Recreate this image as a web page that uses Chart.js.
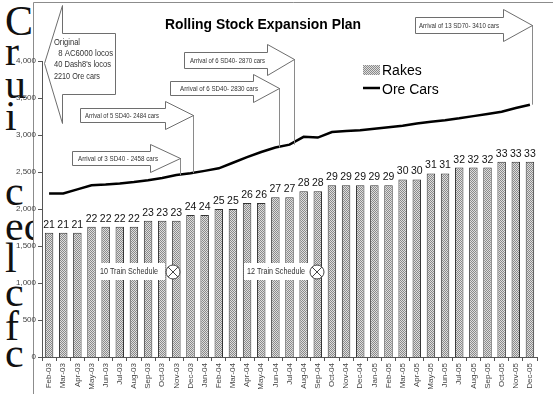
<!DOCTYPE html>
<html>
<head>
<meta charset="utf-8">
<script src="https://cdn.jsdelivr.net/npm/chart.js@4.4.1/dist/chart.umd.min.js"></script>
<style>
  html, body { margin: 0; padding: 0; background: #fff; overflow: hidden; }
  #wrap { position: relative; width: 553px; height: 394px; }
  .side { position: absolute; left: 5px; font-family: "Liberation Serif", "Times New Roman", serif;
          font-size: 42px; line-height: 1; color: #111; white-space: nowrap; }
  #c { position: absolute; left: 0; top: 0; }
</style>
</head>
<body>
<div id="wrap">
  <div class="side" style="top:0px">C</div>
  <div class="side" style="top:30px">r</div>
  <div class="side" style="top:63px">u</div>
  <div class="side" style="top:95px">i</div>
  <div class="side" style="top:170px">c</div>
  <div class="side" style="top:205px">ec</div>
  <div class="side" style="top:237px">l</div>
  <div class="side" style="top:271px">c</div>
  <div class="side" style="top:305px">f</div>
  <div class="side" style="top:332px">c</div>
  <canvas id="c" width="553" height="394"></canvas>
</div>
<script>
// Monthly plan, Feb-03 .. Dec-05
const months = ['Feb-03','Mar-03','Apr-03','May-03','Jun-03','Jul-03','Aug-03','Sep-03','Oct-03','Nov-03','Dec-03',
  'Jan-04','Feb-04','Mar-04','Apr-04','May-04','Jun-04','Jul-04','Aug-04','Sep-04','Oct-04','Nov-04','Dec-04',
  'Jan-05','Feb-05','Mar-05','Apr-05','May-05','Jun-05','Jul-05','Aug-05','Sep-05','Oct-05','Nov-05','Dec-05'];

const rakes = [21,21,21,22,22,22,22,23,23,23,24,24,25,25,26,26,27,27,28,28,29,29,29,29,29,30,30,31,31,32,32,32,33,33,33];

const oreCars = [2210,2210,2265,2320,2330,2345,2365,2390,2420,2458,2484,2515,2550,2625,2700,2770,2830,2870,2975,2965,
  3040,3055,3065,3085,3105,3125,3155,3180,3200,3225,3255,3285,3315,3365,3410];

// Locomotive arrivals and the ore-car fleet they bring
const arrivalText = ['Arrival of 3 SD40 - 2458 cars','Arrival of 5 SD40- 2484 cars','Arrival of 6 SD40- 2830 cars',
  'Arrival of 6 SD40- 2870 cars','Arrival of 13 SD70- 3410 cars'];
const arrivalCars = [2458, 2484, 2830, 2870, 3410];

const originalText = ['Original', '  8 AC6000 locos', "40 Dash8's locos", '2210 Ore cars'];
const scheduleText = ['10 Train Schedule', '12 Train Schedule'];

// Layout of the arrow call-outs (pixels)
const arrowLayout = [
  { x0: 72,  hx: 150, y0: 151, y1: 165, ht: 144, hb: 172, tx: 180, ty: 158, textX: 78,  textW: 80 },
  { x0: 80,  hx: 165, y0: 108, y1: 122, ht: 101, hb: 129, tx: 193, ty: 115, textX: 85,  textW: 74 },
  { x0: 170, hx: 253, y0: 81,  y1: 95,  ht: 74,  hb: 102, tx: 279, ty: 88,  textX: 180, textW: 78 },
  { x0: 184, hx: 267, y0: 52,  y1: 68,  ht: 44,  hb: 75,  tx: 294, ty: 59,  textX: 190, textW: 75 },
  { x0: 415, hx: 503, y0: 17,  y1: 33,  ht: 9,   hb: 41,  tx: 532, ty: 25,  textX: 419, textW: 80 }
];
const scheduleLayout = [
  { x: 97,  w: 68, cx: 173 },
  { x: 244, w: 66, cx: 317 }
];

const NARROW = '"Liberation Sans Narrow", "Liberation Sans", Arial, sans-serif';
const SANS = '"Liberation Sans", Arial, sans-serif';

// Dotted grey fill used by the rake bars
function makeDots() {
  const p = document.createElement('canvas');
  p.width = 2; p.height = 2;
  const g = p.getContext('2d');
  g.fillStyle = '#dedede'; g.fillRect(0, 0, 2, 2);
  g.fillStyle = '#8a8a8a'; g.fillRect(0, 0, 1, 1); g.fillRect(1, 1, 1, 1);
  return g.createPattern(p, 'repeat');
}
const ctx0 = document.getElementById('c').getContext('2d');
const dots = makeDots();

const decor = {
  id: 'decor',
  beforeDraw(chart) {
    const c = chart.ctx;
    c.save();
    c.fillStyle = '#fff';
    c.fillRect(33, 2, 530, 400);
    c.strokeStyle = '#8c8c8c'; c.lineWidth = 1;
    c.beginPath();
    c.moveTo(33.5, 400); c.lineTo(33.5, 2.5); c.lineTo(560, 2.5);
    c.stroke();
    c.restore();
  },
  afterDatasetsDraw(chart) {
    const c = chart.ctx;
    const y = chart.scales.y;
    c.save();

    // value labels above the bars
    const barMeta = chart.getDatasetMeta(1);
    c.fillStyle = '#111';
    c.font = '10.5px ' + NARROW;
    c.textAlign = 'center'; c.textBaseline = 'alphabetic';
    barMeta.data.forEach((el, i) => c.fillText(String(rakes[i]), el.x, el.y - 5));

    // schedule markers
    c.font = '9px ' + NARROW;
    c.textBaseline = 'middle'; c.textAlign = 'left';
    scheduleText.forEach((t, i) => {
      const L = scheduleLayout[i];
      c.fillStyle = '#fff';
      c.fillRect(L.x, 263, L.w, 17);
      c.fillStyle = '#333';
      c.fillText(t, L.x + 3, 272, 58);
      c.beginPath(); c.arc(L.cx, 272, 7, 0, Math.PI * 2);
      c.fillStyle = '#fff'; c.fill();
      c.strokeStyle = '#444'; c.lineWidth = 1; c.stroke();
      const d = 4.9;
      c.beginPath();
      c.moveTo(L.cx - d, 272 - d); c.lineTo(L.cx + d, 272 + d);
      c.moveTo(L.cx + d, 272 - d); c.lineTo(L.cx - d, 272 + d);
      c.stroke();
    });

    // arrival arrows with leaders down to the ore-car line
    c.lineWidth = 1;
    arrivalText.forEach((t, i) => {
      const a = arrowLayout[i];
      c.strokeStyle = '#8a8a8a';
      c.beginPath();
      c.moveTo(a.tx + 0.5, a.ty); c.lineTo(a.tx + 0.5, y.getPixelForValue(arrivalCars[i]));
      c.stroke();
      c.beginPath();
      c.moveTo(a.x0 + 0.5, a.y0 + 0.5); c.lineTo(a.hx + 0.5, a.y0 + 0.5); c.lineTo(a.hx + 0.5, a.ht + 0.5);
      c.lineTo(a.tx + 0.5, a.ty + 0.5); c.lineTo(a.hx + 0.5, a.hb + 0.5); c.lineTo(a.hx + 0.5, a.y1 + 0.5);
      c.lineTo(a.x0 + 0.5, a.y1 + 0.5); c.closePath();
      c.fillStyle = '#fff'; c.fill();
      c.strokeStyle = '#6e6e6e'; c.stroke();
      c.fillStyle = '#333';
      c.font = '8px ' + NARROW;
      c.textAlign = 'left'; c.textBaseline = 'middle';
      c.fillText(t, a.textX, (a.y0 + a.y1) / 2 + 0.5, a.textW);
    });

    // initial fleet call-out (left-pointing)
    c.beginPath();
    c.moveTo(115.5, 33.5); c.lineTo(62.5, 33.5); c.lineTo(62.5, 5.5); c.lineTo(44.5, 63.5);
    c.lineTo(62.5, 123.5); c.lineTo(62.5, 94.5); c.lineTo(115.5, 94.5); c.closePath();
    c.fillStyle = '#fff'; c.fill();
    c.strokeStyle = '#6e6e6e'; c.stroke();
    c.fillStyle = '#333';
    c.font = '9px ' + NARROW;
    const oy = [43, 54, 65, 77];
    const ow = [26, 53, 57, 46];
    originalText.forEach((t, i) => c.fillText(t, 54, oy[i], ow[i] + (t.startsWith(' ') ? 6 : 0)));

    // title
    c.fillStyle = '#000';
    c.font = 'bold 14px ' + SANS;
    c.textAlign = 'center';
    c.fillText('Rolling Stock Expansion Plan', 263, 25, 196);

    // legend
    c.textAlign = 'left';
    c.fillStyle = dots;
    c.fillRect(363, 65, 17, 10);
    c.strokeStyle = '#000'; c.lineWidth = 2.5;
    c.beginPath(); c.moveTo(363, 88); c.lineTo(380, 88); c.stroke();
    c.fillStyle = '#000';
    c.font = '14px ' + NARROW;
    c.fillText('Rakes', 382, 71);
    c.fillText('Ore Cars', 382, 90);
    c.restore();
  }
};

new Chart(ctx0, {
  data: {
    labels: months,
    datasets: [
      {
        type: 'line', label: 'Ore Cars', data: oreCars, yAxisID: 'y', order: 1,
        borderColor: '#000', borderWidth: 2.5, pointRadius: 0, tension: 0, fill: false
      },
      {
        type: 'bar', label: 'Rakes', data: rakes, yAxisID: 'y1', order: 2,
        backgroundColor: dots, borderColor: '#333', borderWidth: 1,
        categoryPercentage: 0.6, barPercentage: 1.0
      }
    ]
  },
  options: {
    responsive: false,
    animation: false,
    events: [],
    layout: { padding: { left: 0, right: 16, top: 61, bottom: 0 } },
    plugins: { legend: { display: false }, title: { display: false }, tooltip: { enabled: false } },
    scales: {
      x: {
        type: 'category',
        offset: true,
        grid: { display: true, drawOnChartArea: false, offset: true, tickLength: 4, color: '#555' },
        border: { display: true, color: '#555', width: 1 },
        ticks: { autoSkip: false, maxRotation: 90, minRotation: 90, padding: 2, color: '#444',
                 font: { family: NARROW, size: 8 } },
        afterFit(s) { s.height = 37; }
      },
      y: {
        type: 'linear', position: 'left', min: 0, max: 4000,
        grid: { display: true, drawOnChartArea: false, tickLength: 4, color: '#555' },
        border: { display: true, color: '#555', width: 1 },
        ticks: { stepSize: 500, padding: 2, color: '#444', font: { family: NARROW, size: 8 },
                 callback: v => v.toLocaleString('en-US') },
        afterFit(s) { s.width = 42; }
      },
      y1: { type: 'linear', display: false, min: 0, max: 50 }
    }
  },
  plugins: [decor]
});
</script>
</body>
</html>
